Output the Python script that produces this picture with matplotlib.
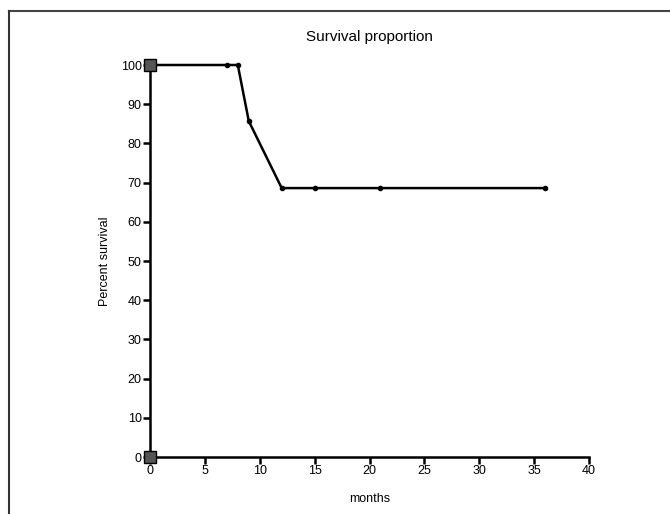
import matplotlib
matplotlib.use("Agg")
import matplotlib.pyplot as plt
from matplotlib.lines import Line2D

# survival curve
months = [0, 7, 8, 9, 12, 15, 21, 36]
survival = [100, 100, 100, 85.7, 68.6, 68.6, 68.6, 68.6]
# the two square markers at time zero
start_months = [0, 0]
start_values = [100, 0]

x_ticks = [0, 5, 10, 15, 20, 25, 30, 35, 40]
y_ticks = [0, 10, 20, 30, 40, 50, 60, 70, 80, 90, 100]

plt.rcParams['font.family'] = ['Liberation Sans', 'DejaVu Sans']

fig = plt.figure(figsize=(6.7, 5.14), dpi=100)
ax = fig.add_axes([150/670, 1-457/514, (589-150)/670, (457-65)/514])

ax.plot(months, survival, color='black', lw=1.8, marker='o', ms=3, zorder=3, clip_on=False)
ax.plot(start_months, start_values, ls='none', marker='s', ms=8,
        mfc='#555555', mec='black', mew=1, zorder=4, clip_on=False)

ax.set_xlim(0, 40)
ax.set_ylim(0, 100)
ax.set_xticks(x_ticks)
ax.set_yticks(y_ticks)
for s in ['top', 'right']:
    ax.spines[s].set_visible(False)
for s in ['left', 'bottom']:
    ax.spines[s].set_linewidth(1.8)
ax.tick_params(direction='out', length=5, width=1.8, labelsize=9, pad=1)

ax.set_title('Survival proportion', fontsize=11, pad=17)
ax.set_xlabel('months', fontsize=9, labelpad=11)
ax.set_ylabel('Percent survival', fontsize=9, labelpad=7)

# frame lines at the top and left edge of the image
fig.add_artist(Line2D([8.5/670, 1], [1-10.5/514, 1-10.5/514], color='#444444', lw=1.5))
fig.add_artist(Line2D([8.5/670, 8.5/670], [0, 1-10.5/514], color='#333333', lw=1.5))

fig.savefig('out.png', dpi=100, facecolor='white')
